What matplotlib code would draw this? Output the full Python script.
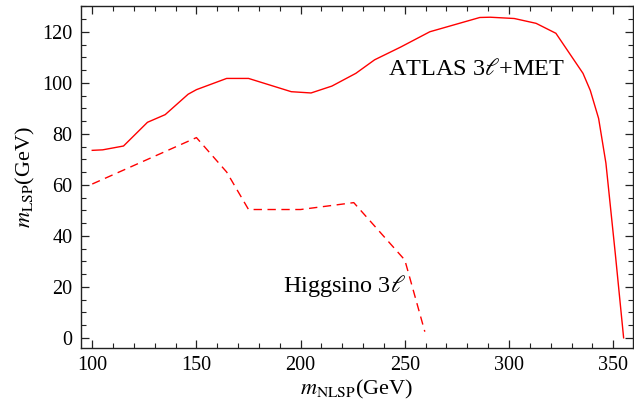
import matplotlib
matplotlib.use("Agg")
import matplotlib.pyplot as plt
from matplotlib.ticker import MultipleLocator

plt.rcParams['font.family'] = ['Liberation Serif', 'DejaVu Serif']
plt.rcParams['mathtext.fontset'] = 'stix'

# ATLAS 3l+MET exclusion contour
atlas_x = [100, 105, 115, 126.5, 135, 146, 150, 164.5, 175, 195.5, 205, 215,
           226.5, 235.5, 248, 262, 286, 291, 302.5, 313, 322.5, 335.5, 339,
           343, 346.5, 351, 355]
atlas_y = [73.5, 73.7, 75.2, 84.5, 87.5, 95.5, 97.3, 101.7, 101.7, 96.5, 96,
           98.7, 103.7, 109, 114, 120, 125.6, 125.7, 125.2, 123.3, 119.4,
           103.7, 97, 86, 68.5, 33, 0]

# Higgsino 3l contour
higgs_x = [100, 150, 164.5, 175, 200, 225.5, 250, 259.6]
higgs_y = [60.3, 78.5, 65, 50.3, 50.3, 53, 30.5, 2.4]

xticks = [100, 150, 200, 250, 300, 350]
yticks = [0, 20, 40, 60, 80, 100, 120]

fig = plt.figure(figsize=(6.34, 4.07), dpi=100)
ax = fig.add_axes([81/634, 1-348/407, (633-81)/634, (348-6)/407])

ax.plot(atlas_x, atlas_y, color='#ff0000', lw=1.0)
ax.plot(higgs_x, higgs_y, color='#ff0000', lw=1.0, dashes=(6, 4))

ax.set_xlim(94.6, 359.5)
ax.set_ylim(-4.0, 130.1)
ax.set_xticks(xticks)
ax.set_yticks(yticks)
ax.xaxis.set_minor_locator(MultipleLocator(10))
ax.yaxis.set_minor_locator(MultipleLocator(5))
ax.tick_params(which='both', direction='in', top=True, right=True,
               labeltop=False, labelright=False, color='#222222')
ax.tick_params(which='major', length=6, width=0.9, labelsize=14.5, pad=6)
ax.tick_params(which='minor', length=3.5, width=0.8)
for s in ax.spines.values():
    s.set_color('#222222')
    s.set_linewidth(1.0)

ax.set_xlabel(r'$m_{\mathrm{NLSP}}$(GeV)', fontsize=16, labelpad=2)
ax.set_ylabel(r'$m_{\mathrm{LSP}}$(GeV)', fontsize=16, labelpad=4)

ax.text(241.9, 103.0, r'ATLAS 3$\ell$+MET', fontsize=17.5, ha='left', va='baseline')
ax.text(191.5, 18.0, r'Higgsino 3$\ell$', fontsize=17.5, ha='left', va='baseline')

fig.savefig('out.png', dpi=100)
